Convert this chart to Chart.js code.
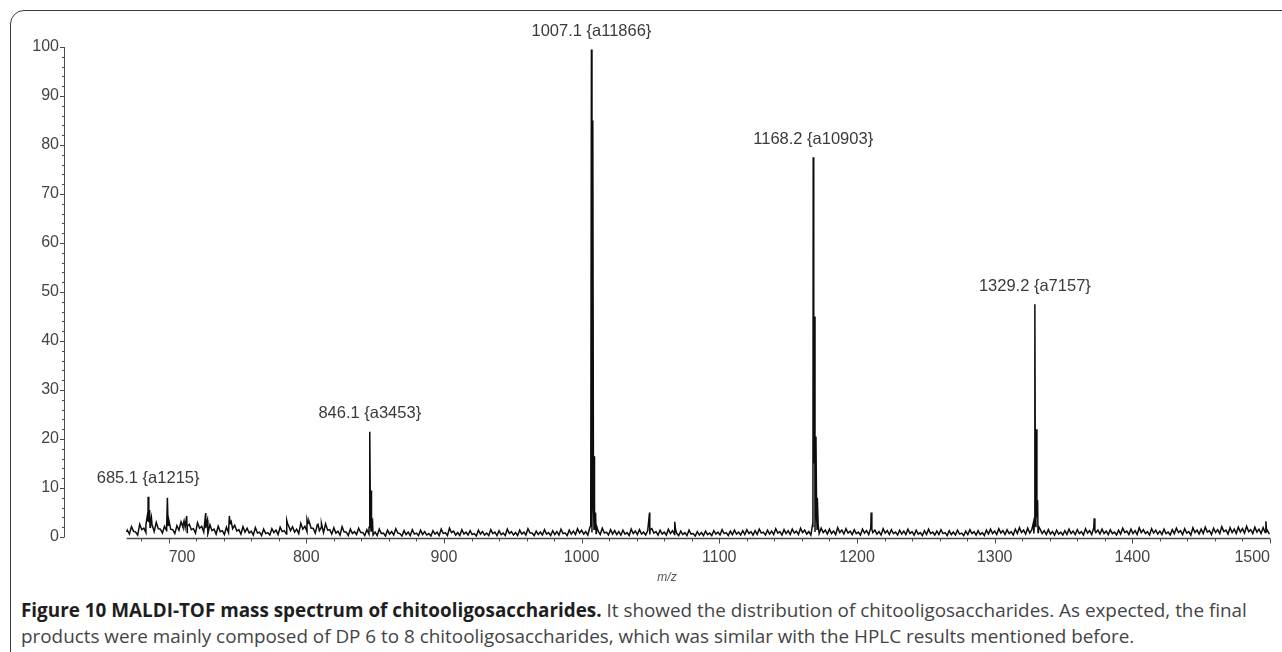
<!DOCTYPE html>
<html>
<head>
<meta charset="utf-8">
<script src="https://cdn.jsdelivr.net/npm/chart.js@4.4.1/dist/chart.umd.min.js"></script>
<style>
html, body { margin: 0; padding: 0; background: #fff; width: 1282px; height: 652px; overflow: hidden; }
#frame { position: absolute; left: 10px; top: 10px; width: 1320px; height: 720px; border: 1.5px solid #3a3a3a; border-radius: 14px; box-sizing: border-box; }
#wrap { position: absolute; left: 0; top: 0; width: 1282px; height: 590px; }
.cap { position: absolute; left: 21px; white-space: nowrap; font-family: "Open Sans", "Noto Sans", sans-serif; font-size: 16px; color: #444; }
.cap b { color: #1e1e1e; }
</style>
</head>
<body>
<div id="frame"></div>
<div id="wrap"><canvas id="myChart"></canvas></div>
<div class="cap" id="cap1" style="top:597px"><b>Figure 10 MALDI-TOF mass spectrum of chitooligosaccharides.</b> It showed the distribution of chitooligosaccharides. As expected, the final</div>
<div class="cap" id="cap2" style="top:623px">products were mainly composed of DP 6 to 8 chitooligosaccharides, which was similar with the HPLC results mentioned before.</div>
<script>
//axis ticks
const xTickLabels = [700, 800, 900, 1000, 1100, 1200, 1300, 1400, 1500];
const yTickLabels = [0, 10, 20, 30, 40, 50, 60, 70, 80, 90, 100];

//baseline noise, read every 3 m/z units starting at 670 (upper side of the noise band)
const NOISE_START = 670;
const NOISE_STEP = 3;
const noise = [
	1.4, 2.1, 1.0, 2.6, 1.8, 3.2, 2.4, 3.0, 1.6, 2.2,
	2.8, 1.5, 2.3, 3.1, 2.0, 2.6, 1.7, 2.9, 2.2, 1.8,
	2.5, 1.6, 2.2, 1.3, 2.0, 3.0, 2.4, 1.5, 2.1, 1.8,
	1.2, 1.9, 1.0, 1.6, 0.9, 1.7, 1.4, 2.0, 1.3, 2.4,
	2.1, 1.6, 2.8, 2.2, 3.0, 1.8, 2.5, 2.0, 2.7, 1.5,
	1.9, 1.2, 2.1, 1.0, 1.6, 1.1, 1.8, 0.9, 1.5, 1.2,
	1.0, 1.6, 0.8, 1.4, 1.1, 1.7, 0.7, 1.3, 1.0, 1.5,
	0.8, 1.4, 1.1, 0.7, 1.3, 1.0, 1.6, 0.9, 1.8, 1.2,
	0.9, 1.5, 1.0, 1.3, 0.7, 1.4, 1.1, 0.8, 1.5, 1.0,
	1.3, 0.8, 1.6, 1.1, 0.9, 1.4, 1.0, 1.7, 0.8, 1.2,
	1.0, 1.5, 0.9, 1.3, 1.1, 1.6, 0.8, 1.4, 1.2, 1.7,
	1.4, 1.1, 2.0, 1.6, 1.2, 1.8, 1.0, 1.5, 1.3, 1.1,
	1.4, 0.9, 1.6, 1.2, 1.5, 1.0, 1.3, 1.7, 1.1, 1.4,
	1.0, 1.6, 1.3, 0.8, 1.2, 0.9, 1.4, 0.7, 1.1, 0.9,
	1.2, 0.8, 1.3, 1.0, 1.5, 0.9, 1.2, 1.4, 1.0, 1.3,
	1.5, 1.1, 1.3, 1.6, 1.0, 1.4, 1.2, 1.7, 1.1, 1.5,
	1.3, 1.6, 1.2, 1.8, 1.4, 1.1, 2.0, 1.6, 1.8, 1.4,
	1.6, 1.2, 1.9, 1.4, 1.7, 1.2, 1.5, 1.0, 1.6, 1.3,
	1.8, 1.4, 1.1, 1.7, 1.3, 1.5, 1.0, 1.4, 1.2, 1.6,
	1.1, 1.4, 0.9, 1.3, 1.6, 1.0, 1.2, 1.5, 0.9, 1.3,
	1.0, 1.4, 0.8, 1.2, 1.5, 1.1, 1.3, 0.9, 1.4, 1.6,
	1.2, 1.7, 1.3, 1.5, 1.1, 1.6, 1.9, 1.4, 1.8, 1.5,
	2.0, 1.6, 1.3, 1.5, 1.1, 1.4, 1.0, 1.3, 1.6, 1.2,
	1.5, 1.1, 1.7, 1.3, 1.9, 1.4, 1.6, 1.2, 1.5, 1.0,
	1.4, 1.8, 1.2, 1.6, 1.3, 1.9, 1.5, 1.1, 1.7, 1.4,
	1.2, 1.6, 1.0, 1.5, 1.8, 1.3, 1.7, 1.1, 1.9, 1.4,
	1.6, 2.0, 1.3, 1.8, 1.5, 2.1, 1.4, 1.9, 1.6, 2.0,
	1.7, 2.2, 1.5, 2.0, 1.6, 1.9, 1.4
];
//lower side of the noise band, read half way between the samples above
const noiseMid = [
	0.6, 1.2, 0.4, 1.5, 0.9, 2.0, 1.1, 1.7, 0.8, 1.3,
	1.6, 0.7, 1.4, 1.9, 0.9, 1.5, 0.8, 1.8, 1.0, 0.7,
	1.3, 0.6, 1.1, 0.5, 0.9, 1.7, 1.2, 0.6, 1.0, 0.8,
	0.4, 0.8, 0.3, 0.7, 0.4, 0.9, 0.5, 1.1, 0.6, 1.3,
	1.0, 0.7, 1.6, 1.1, 1.8, 0.8, 1.3, 0.9, 1.4, 0.6,
	0.8, 0.4, 1.0, 0.3, 0.7, 0.5, 0.9, 0.3, 0.6, 0.4,
	0.3, 0.7, 0.2, 0.6, 0.4, 0.8, 0.2, 0.5, 0.3, 0.6,
	0.3, 0.5, 0.4, 0.2, 0.6, 0.3, 0.7, 0.3, 0.9, 0.4,
	0.3, 0.6, 0.4, 0.5, 0.2, 0.6, 0.4, 0.3, 0.7, 0.3,
	0.5, 0.3, 0.7, 0.4, 0.3, 0.6, 0.4, 0.8, 0.3, 0.5,
	0.4, 0.6, 0.3, 0.5, 0.4, 0.7, 0.3, 0.6, 0.5, 0.8,
	0.6, 0.4, 0.9, 0.7, 0.5, 0.8, 0.4, 0.6, 0.5, 0.4,
	0.6, 0.3, 0.7, 0.5, 0.6, 0.4, 0.5, 0.8, 0.4, 0.6,
	0.4, 0.7, 0.5, 0.3, 0.5, 0.3, 0.6, 0.2, 0.4, 0.3,
	0.5, 0.3, 0.6, 0.4, 0.7, 0.3, 0.5, 0.6, 0.4, 0.5,
	0.7, 0.4, 0.5, 0.8, 0.4, 0.6, 0.5, 0.8, 0.4, 0.7,
	0.5, 0.8, 0.5, 0.9, 0.6, 0.4, 1.0, 0.7, 0.9, 0.6,
	0.7, 0.5, 0.9, 0.6, 0.8, 0.5, 0.7, 0.4, 0.8, 0.5,
	0.9, 0.6, 0.4, 0.8, 0.5, 0.7, 0.4, 0.6, 0.5, 0.7,
	0.4, 0.6, 0.3, 0.5, 0.7, 0.4, 0.5, 0.7, 0.3, 0.5,
	0.4, 0.6, 0.3, 0.5, 0.7, 0.4, 0.5, 0.3, 0.6, 0.7,
	0.5, 0.8, 0.5, 0.7, 0.4, 0.7, 0.9, 0.6, 0.8, 0.7,
	0.9, 0.7, 0.5, 0.6, 0.4, 0.6, 0.4, 0.5, 0.7, 0.5,
	0.7, 0.4, 0.8, 0.5, 0.9, 0.6, 0.7, 0.5, 0.7, 0.4,
	0.6, 0.9, 0.5, 0.7, 0.5, 0.9, 0.7, 0.4, 0.8, 0.6,
	0.5, 0.7, 0.4, 0.7, 0.9, 0.5, 0.8, 0.4, 0.9, 0.6,
	0.7, 1.0, 0.5, 0.9, 0.7, 1.1, 0.6, 0.9, 0.7, 1.0,
	0.8, 1.1, 0.7, 1.0, 0.7, 0.9, 0.6
];

//spikes and isotope peaks (m/z, relative intensity %)
const peakMz = [
	683.5, 684.6, 685.1, 685.6, 686.2, 686.8, 687.5, 688.3,
	698.6, 699.1, 699.6, 700.2,
	710.5, 711.2, 713.1, 713.6,
	726.9, 727.4, 728.2,
	744.1, 744.7, 745.4,
	785.8, 786.5,
	800.5, 801.2, 802.0,
	808.5, 811.0,
	845.6, 846.1, 846.6, 847.1, 847.6, 848.1,
	1006.6, 1007.1, 1007.5, 1008.1, 1008.6, 1009.1, 1009.6, 1010.1, 1010.7,
	1049.3, 1049.8, 1067.6, 1068.2,
	1167.7, 1168.2, 1168.6, 1169.2, 1169.7, 1170.2, 1170.7, 1171.2, 1171.8,
	1210.3, 1210.8,
	1328.2, 1328.7, 1329.2, 1329.6, 1330.2, 1330.7, 1331.2, 1331.8,
	1372.3, 1372.8,
	1497.0, 1497.5
];
const peakInt = [
	2.5, 4.5, 8.2, 3.0, 5.5, 2.8, 4.0, 2.2,
	2.5, 8.0, 2.4, 3.5,
	2.5, 3.3, 4.3, 2.2,
	4.9, 2.6, 3.5,
	4.3, 2.7, 3.2,
	3.4, 2.6,
	3.6, 2.8, 3.2,
	2.6, 2.8,
	2.0, 21.5, 3.0, 9.5, 2.5, 3.2,
	2.2, 99.5, 20, 85, 6, 16.5, 3.0, 5.0, 2.4,
	5.0, 1.5, 3.1, 1.6,
	2.5, 77.5, 15, 45, 6, 20.5, 4, 8, 2.6,
	5.0, 1.6,
	3.0, 2.3, 47.5, 9, 22, 4, 7.5, 2.2,
	3.8, 1.3,
	3.2, 1.2
];

//annotated peaks
const labelMz = [685.1, 846.1, 1007.1, 1168.2, 1329.2];
const labelInt = [8.2, 21.5, 99.5, 77.5, 47.5];
const labelText = ['685.1 {a1215}', '846.1 {a3453}', '1007.1 {a11866}', '1168.2 {a10903}', '1329.2 {a7157}'];

const X_DATA_START = 669.5;

//merge noise and peaks into one sorted spectrum
var buildSpectrum = function() {
	let pts = [];
	for (var i = 0; i < noise.length; i++) {
		pts.push({x: NOISE_START + i * NOISE_STEP, y: noise[i]});
		pts.push({x: NOISE_START + i * NOISE_STEP + NOISE_STEP / 2, y: noiseMid[i]});
	}
	for (var j = 0; j < peakMz.length; j++) {
		pts.push({x: peakMz[j], y: peakInt[j]});
	}
	pts.push({x: X_DATA_START, y: 1.0});
	pts.sort(function(a, b) { return a.x - b.x; });
	return pts;
}

//draws the spectrometer style axes and the peak labels
const msAxes = {
	id: 'msAxes',
	afterDraw: function(chart) {
		const ctx = chart.ctx;
		const x = chart.scales.x;
		const y = chart.scales.y;
		ctx.save();
		ctx.strokeStyle = '#4a4a4a';
		ctx.lineWidth = 1;
		//y axis
		const ax = Math.round(chart.chartArea.left) + 0.5;
		ctx.beginPath();
		ctx.moveTo(ax, y.getPixelForValue(100));
		ctx.lineTo(ax, y.getPixelForValue(0));
		for (var v = 0; v <= 100; v += 2) {
			const py = Math.round(y.getPixelForValue(v)) + 0.5;
			const len = (v % 10 === 0) ? 4.5 : 2.5;
			ctx.moveTo(ax - len, py);
			ctx.lineTo(ax, py);
		}
		ctx.stroke();
		//x axis
		const by = Math.round(y.getPixelForValue(0)) + 1.5;
		ctx.beginPath();
		ctx.lineWidth = 1.3;
		ctx.moveTo(x.getPixelForValue(X_DATA_START), by);
		ctx.lineTo(x.getPixelForValue(1500), by);
		ctx.stroke();
		ctx.beginPath();
		ctx.lineWidth = 1;
		for (var m = 680; m <= 1500; m += 20) {
			const px = Math.round(x.getPixelForValue(m)) + 0.5;
			const len = (m % 100 === 0) ? 5 : 3;
			ctx.moveTo(px, by);
			ctx.lineTo(px, by + len);
		}
		ctx.stroke();
		//peak labels
		ctx.font = '16.5px "Liberation Sans", Arial, sans-serif';
		ctx.fillStyle = '#3a3a3a';
		ctx.textAlign = 'center';
		ctx.textBaseline = 'middle';
		for (var k = 0; k < labelMz.length; k++) {
			ctx.fillText(labelText[k], x.getPixelForValue(labelMz[k]), y.getPixelForValue(labelInt[k]) - 18);
		}
		ctx.restore();
	}
};

var ctx = document.getElementById('myChart');
var createChart = function(targElement) {
	var spectrum = new Chart(targElement, {
		type: 'line',
		data: {
			datasets: [{
				data: buildSpectrum(),
				borderColor: '#0d0d0d',
				borderWidth: 1.5,
				pointRadius: 0,
				tension: 0,
				fill: false
			}]
		},
		options: {
			responsive: true,
			maintainAspectRatio: false,
			animation: false,
			events: [],
			layout: { padding: { left: 0, top: 47, right: 12, bottom: 0 } },
			plugins: { legend: { display: false }, tooltip: { enabled: false } },
			scales: {
				x: {
					type: 'linear',
					min: 624,
					max: 1500,
					afterBuildTicks: function(axis) {
						axis.ticks = xTickLabels.map(function(v) { return {value: v}; });
					},
					afterFit: function(axis) { axis.height = 53; },
					grid: { display: false, drawTicks: false },
					border: { display: false },
					ticks: {
						autoSkip: false,
						maxRotation: 0,
						align: 'inner',
						padding: 11,
						color: '#444',
						font: { family: '"Liberation Sans", Arial, sans-serif', size: 16 },
						callback: function(v) { return String(v); }
					},
					title: {
						display: true,
						text: 'm/z',
						color: '#555',
						font: { family: '"Liberation Sans", Arial, sans-serif', size: 12, style: 'italic' },
						padding: { top: 0, bottom: 5 }
					}
				},
				y: {
					min: 0,
					max: 100,
					afterBuildTicks: function(axis) {
						axis.ticks = yTickLabels.map(function(v) { return {value: v}; });
					},
					afterFit: function(axis) { axis.width = 64; },
					grid: { display: false, drawTicks: false },
					border: { display: false },
					ticks: {
						padding: 5,
						color: '#444',
						font: { family: '"Liberation Sans", Arial, sans-serif', size: 16 }
					}
				}
			}
		},
		plugins: [msAxes]
	});
}

createChart(ctx);

//fit caption width to the figure
var fitCaption = function() {
	var c1 = document.getElementById('cap1');
	var c2 = document.getElementById('cap2');
	var w = c1.getBoundingClientRect().width;
	var size = 16 * 1227 / w;
	c1.style.fontSize = size + 'px';
	c2.style.fontSize = size + 'px';
}
fitCaption();
</script>
</body>
</html>
